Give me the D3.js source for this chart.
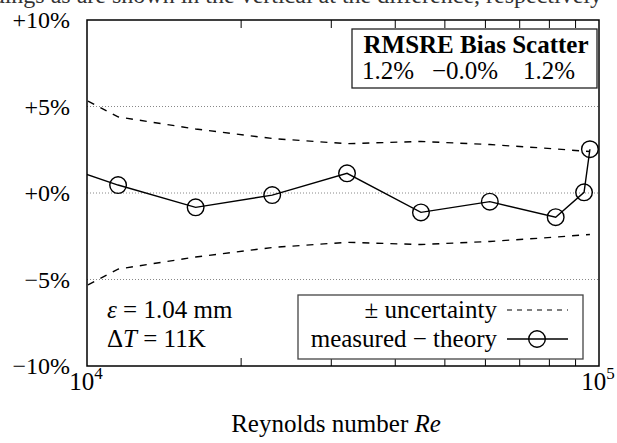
<!DOCTYPE html>
<html>
<head>
<meta charset="utf-8">
<script src="https://cdn.jsdelivr.net/npm/d3@7"></script>
<style>
  html, body { margin: 0; padding: 0; background: #fff; }
  svg { display: block; }
  text { font-family: "Liberation Serif", "DejaVu Serif", serif; fill: #000; }
</style>
</head>
<body>
<svg id="chart" width="617" height="443"></svg>
<script>
// ---- data ----
const reynolds = [8500, 11500, 16300, 23000, 32200, 44900, 61200, 82300, 93500, 96000];
const deviation = [1.79, 0.46, -0.83, -0.12, 1.14, -1.12, -0.50, -1.40, 0.04, 2.53]; // measured - theory, %
const uncertainty = [6.45, 4.4, 3.7, 3.15, 2.85, 2.98, 2.8, 2.55, 2.42, 2.4];      // +/- %
const yTicks = [-10, -5, 0, 5, 10];
const yTickLabels = ["\u221210%", "\u22125%", "+0%", "+5%", "+10%"];
const gridValues = [-5, 0, 5];
const xMajor = [1e4, 1e5];
const xMajorExp = ["4", "5"];
const statHeaders = "RMSRE Bias Scatter";
const statValues = ["1.2%", "\u22120.0%", "1.2%"];
const legendLabels = ["\u00b1 uncertainty", "measured \u2212 theory"];
const conditions = [["\u03b5", " = 1.04 mm"], ["\u0394", "T", " = 11K"]];

const svg = d3.select("#chart");
const L = 87, R = 599, T = 20, B = 366;
const x = d3.scaleLog().domain([1e4, 1e5]).range([L, R]);
const y = d3.scaleLinear().domain([-10, 10]).range([B, T]);

// caption remnant at top (cut off by the page edge, as in the reference)
svg.append("text").attr("x", 602).attr("y", 3).attr("text-anchor", "end")
  .attr("font-size", 24).style("fill", "#333")
  .text("readings as are shown in the vertical at the difference, respectively");

// clip
svg.append("clipPath").attr("id", "clip").append("rect")
  .attr("x", L).attr("y", T).attr("width", R - L).attr("height", B - T);

// grid lines
svg.append("g").selectAll("line").data(gridValues).join("line")
  .attr("x1", L).attr("x2", R).attr("y1", d => y(d)).attr("y2", d => y(d))
  .attr("stroke", "#888").attr("stroke-width", 1).attr("stroke-dasharray", "1,2");

// minor x ticks (inward, top and bottom)
const tickVals = [];
for (let k = 2; k <= 9; k++) tickVals.push(k * 1e4);
const tg = svg.append("g");
tg.selectAll("line.b").data(tickVals).join("line").attr("class", "b")
  .attr("x1", d => x(d)).attr("x2", d => x(d)).attr("y1", B).attr("y2", B - 8)
  .attr("stroke", "#000").attr("stroke-width", 1);
tg.selectAll("line.t").data(tickVals).join("line").attr("class", "t")
  .attr("x1", d => x(d)).attr("x2", d => x(d)).attr("y1", T).attr("y2", T + 8)
  .attr("stroke", "#000").attr("stroke-width", 1);

const plot = svg.append("g").attr("clip-path", "url(#clip)");
const pts = reynolds.map((r, i) => ({ r, d: deviation[i], u: uncertainty[i] }));

// uncertainty dashed lines
const upper = d3.line().x(p => x(p.r)).y(p => y(p.u));
const lower = d3.line().x(p => x(p.r)).y(p => y(-p.u));
[upper, lower].forEach(gen => {
  plot.append("path").attr("d", gen(pts)).attr("fill", "none")
    .attr("stroke", "#000").attr("stroke-width", 1.4).attr("stroke-dasharray", "7,7");
});

// measured - theory
plot.append("path").attr("d", d3.line().x(p => x(p.r)).y(p => y(p.d))(pts))
  .attr("fill", "none").attr("stroke", "#000").attr("stroke-width", 1.4);
plot.selectAll("circle").data(pts).join("circle")
  .attr("cx", p => x(p.r)).attr("cy", p => y(p.d)).attr("r", 8.3)
  .attr("fill", "none").attr("stroke", "#000").attr("stroke-width", 1.4);

// frame
svg.append("rect").attr("x", L).attr("y", T).attr("width", R - L).attr("height", B - T)
  .attr("fill", "none").attr("stroke", "#000").attr("stroke-width", 1.5);

// y labels
svg.append("g").selectAll("text").data(yTicks).join("text")
  .attr("x", 70).attr("y", d => y(d) + 8).attr("text-anchor", "end")
  .attr("font-size", 24).text((d, i) => yTickLabels[i]);

// x labels
const xl = svg.append("g").selectAll("text").data(xMajor).join("text")
  .attr("x", d => x(d) - 1).attr("y", 390).attr("text-anchor", "middle").attr("font-size", 25);
xl.append("tspan").text("10");
xl.append("tspan").attr("dy", -11).attr("font-size", 17).text((d, i) => xMajorExp[i]);

svg.append("text").attr("x", 336).attr("y", 432).attr("text-anchor", "middle")
  .attr("font-size", 25)
  .call(t => { t.append("tspan").text("Reynolds number  "); t.append("tspan").attr("font-style", "italic").text("Re"); });

// stats box
svg.append("rect").attr("x", 352).attr("y", 29).attr("width", 245).attr("height", 59)
  .attr("fill", "#fff").attr("stroke", "#222").attr("stroke-width", 1.3);
svg.append("text").attr("x", 476).attr("y", 53).attr("text-anchor", "middle")
  .attr("font-size", 25).attr("font-weight", "bold").text(statHeaders);
const statX = [388, 465, 549];
svg.append("g").selectAll("text").data(statValues).join("text")
  .attr("x", (d, i) => statX[i]).attr("y", 79).attr("text-anchor", "middle")
  .attr("font-size", 25).text(d => d);

// conditions
conditions.forEach((c, i) => {
  const t = svg.append("text").attr("x", 107).attr("y", 318 + i * 29).attr("font-size", 25);
  if (i === 0) {
    t.append("tspan").attr("font-style", "italic").text(c[0]);
    t.append("tspan").text(c[1]);
  } else {
    t.append("tspan").text(c[0]);
    t.append("tspan").attr("font-style", "italic").text(c[1]);
    t.append("tspan").text(c[2]);
  }
});

// legend
svg.append("rect").attr("x", 298).attr("y", 295).attr("width", 285).attr("height", 64)
  .attr("fill", "#fff").attr("stroke", "#444").attr("stroke-width", 1.3);
svg.append("g").selectAll("text").data(legendLabels).join("text")
  .attr("x", 497).attr("y", (d, i) => 318 + i * 29).attr("text-anchor", "end")
  .attr("font-size", 25).text(d => d);
svg.append("line").attr("x1", 507).attr("x2", 568).attr("y1", 310).attr("y2", 310)
  .attr("stroke", "#000").attr("stroke-width", 1.2).attr("stroke-dasharray", "5,5");
svg.append("line").attr("x1", 507).attr("x2", 568).attr("y1", 339).attr("y2", 339)
  .attr("stroke", "#000").attr("stroke-width", 1.4);
svg.append("circle").attr("cx", 537).attr("cy", 339).attr("r", 8.3)
  .attr("fill", "none").attr("stroke", "#000").attr("stroke-width", 1.4);
</script>
</body>
</html>
